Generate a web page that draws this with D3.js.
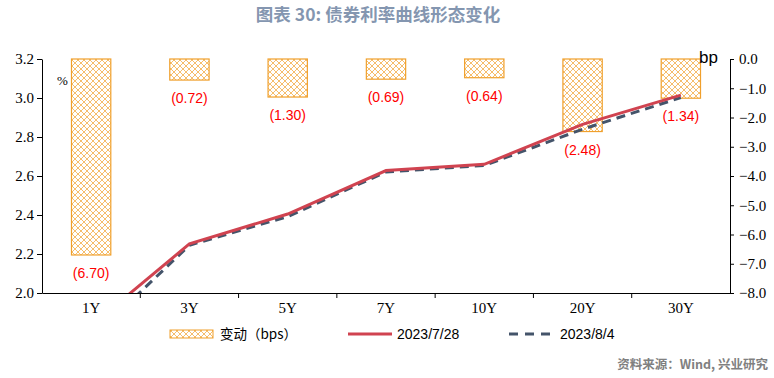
<!DOCTYPE html>
<html>
<head>
<meta charset="utf-8">
<script src="https://cdn.jsdelivr.net/npm/d3@7/dist/d3.min.js"></script>
<style>
  body { margin: 0; background: #fff; }
  svg { display: block; }
</style>
</head>
<body>
<svg id="chart" width="774" height="378"></svg>
<script>
const tenors = ["1Y", "3Y", "5Y", "7Y", "10Y", "20Y", "30Y"];
const yield0728 = [1.832, 2.252, 2.405, 2.628, 2.66, 2.865, 3.015];
const yield0804 = [1.765, 2.245, 2.392, 2.621, 2.654, 2.84, 3.002];
const changeBp = [-6.70, -0.72, -1.30, -0.69, -0.64, -2.48, -1.34];
const leftTicks = [2.0, 2.2, 2.4, 2.6, 2.8, 3.0, 3.2];
const rightTicks = [0, -1, -2, -3, -4, -5, -6, -7, -8];

const svg = d3.select("#chart");
const margin = { left: 42, right: 44, top: 59, bottom: 85 };
const width = 774, height = 378;
const x0 = margin.left, x1 = width - margin.right;
const yTop = margin.top, yBot = height - margin.bottom;

const x = d3.scaleBand().domain(tenors).range([x0, x1]);
const yL = d3.scaleLinear().domain([2.0, 3.2]).range([yBot, yTop]);
const yR = d3.scaleLinear().domain([-8, 0]).range([yBot, yTop]);

const serif = "'Liberation Serif', 'Times New Roman', serif";
const sans = "'Liberation Sans', Arial, sans-serif";
const cjk = "'Noto Sans CJK SC', sans-serif";

// title
svg.append("text")
  .attr("x", 378).attr("y", 21)
  .attr("text-anchor", "middle")
  .style("font-family", cjk)
  .style("font-size", "17.5px")
  .style("font-weight", "bold")
  .style("fill", "#8496b0")
  .text("图表 30: 债券利率曲线形态变化");

// hatch pattern
const defs = svg.append("defs");
const pat = defs.append("pattern")
  .attr("id", "hatch")
  .attr("patternUnits", "userSpaceOnUse")
  .attr("width", 6).attr("height", 6);
pat.append("rect").attr("width", 6).attr("height", 6).attr("fill", "#fff");
pat.append("path")
  .attr("d", "M0,0 L6,6 M6,0 L0,6")
  .attr("stroke", "#f0a02c")
  .attr("stroke-width", 0.7);

defs.append("clipPath").attr("id", "plotClip")
  .append("rect")
  .attr("x", x0).attr("y", yTop - 5)
  .attr("width", x1 - x0).attr("height", yBot - yTop + 5);

// bars
const barW = x.bandwidth() * 0.4;
svg.append("g").selectAll("rect")
  .data(changeBp)
  .join("rect")
  .attr("x", (d, i) => x(tenors[i]) + x.bandwidth() / 2 - barW / 2)
  .attr("y", yR(0))
  .attr("width", barW)
  .attr("height", d => yR(d) - yR(0))
  .attr("fill", "url(#hatch)")
  .attr("stroke", "#f0a02c")
  .attr("stroke-width", 1.2);

svg.append("g").selectAll("text")
  .data(changeBp)
  .join("text")
  .attr("x", (d, i) => x(tenors[i]) + x.bandwidth() / 2)
  .attr("y", d => yR(d) + 23)
  .attr("text-anchor", "middle")
  .style("font-family", sans)
  .style("font-size", "14px")
  .style("fill", "#ff0000")
  .text(d => `(${Math.abs(d).toFixed(2)})`);

// lines
const line = d3.line()
  .x((d, i) => x(tenors[i]) + x.bandwidth() / 2)
  .y(d => yL(d));

const lines = svg.append("g").attr("clip-path", "url(#plotClip)");
lines.append("path")
  .attr("d", line(yield0804))
  .attr("fill", "none")
  .attr("stroke", "#44546a")
  .attr("stroke-width", 3)
  .attr("stroke-dasharray", "9,6");
lines.append("path")
  .attr("d", line(yield0728))
  .attr("fill", "none")
  .attr("stroke", "#d04350")
  .attr("stroke-width", 3);

// axes
const axL = svg.append("g")
  .attr("transform", `translate(${x0},0)`)
  .call(d3.axisLeft(yL).tickValues(leftTicks).tickFormat(d3.format(".1f")).tickSize(5).tickSizeOuter(0));
const axR = svg.append("g")
  .attr("transform", `translate(${x1},0)`)
  .call(d3.axisRight(yR).tickValues(rightTicks).tickFormat(d3.format(".1f")).tickSize(4).tickSizeOuter(0));
const axX = svg.append("g")
  .attr("transform", `translate(0,${yBot})`)
  .call(d3.axisBottom(x).tickSize(0).tickSizeOuter(0));

axX.selectAll(".tick text").attr("dy", "1.15em");
axX.append("g").selectAll("line")
  .data(tenors.slice(1))
  .join("line")
  .attr("x1", d => x(d)).attr("x2", d => x(d))
  .attr("y1", 0).attr("y2", 5)
  .attr("stroke", "#000");

[axL, axR, axX].forEach(a => {
  a.selectAll("path, line").attr("stroke", "#000").attr("stroke-width", 1);
  a.selectAll("text")
    .style("font-family", serif)
    .style("font-size", "15px")
    .style("fill", "#000");
});
axL.selectAll(".tick text").attr("x", -8);
axR.selectAll(".tick text").attr("x", 9);

svg.append("text")
  .attr("x", 57).attr("y", 85)
  .style("font-family", serif)
  .style("font-size", "13px")
  .style("fill", "#000")
  .text("%");
svg.append("text")
  .attr("x", 699).attr("y", 63)
  .style("font-family", sans)
  .style("font-size", "17px")
  .style("fill", "#000")
  .text("bp");

// legend
const lg = svg.append("g").attr("transform", "translate(0,334)");
lg.append("rect")
  .attr("x", 170).attr("y", -4).attr("width", 43).attr("height", 8)
  .attr("fill", "url(#hatch)")
  .attr("stroke", "#f0a02c");
lg.append("text")
  .attr("x", 220).attr("y", 5)
  .style("font-family", cjk)
  .style("font-size", "13.5px")
  .text("变动（bps）");
lg.append("line")
  .attr("x1", 348).attr("x2", 392).attr("y1", 0).attr("y2", 0)
  .attr("stroke", "#d04350").attr("stroke-width", 3);
lg.append("text")
  .attr("x", 397).attr("y", 5)
  .style("font-family", sans)
  .style("font-size", "14px")
  .text("2023/7/28");
lg.append("line")
  .attr("x1", 509).attr("x2", 555).attr("y1", 0).attr("y2", 0)
  .attr("stroke", "#44546a").attr("stroke-width", 3)
  .attr("stroke-dasharray", "9,7");
lg.append("text")
  .attr("x", 560).attr("y", 5)
  .style("font-family", sans)
  .style("font-size", "14px")
  .text("2023/8/4");

// source
svg.append("text")
  .attr("x", 768).attr("y", 369)
  .attr("text-anchor", "end")
  .style("font-family", cjk)
  .style("font-size", "12.5px")
  .style("font-weight", "bold")
  .style("fill", "#808080")
  .text("资料来源：Wind, 兴业研究");
</script>
</body>
</html>
